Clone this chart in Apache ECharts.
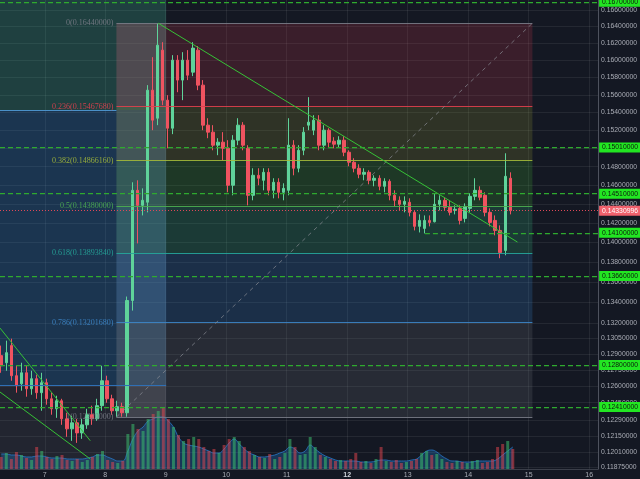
<!DOCTYPE html>
<html><head><meta charset="utf-8">
<script src="https://cdn.jsdelivr.net/npm/echarts@6/dist/echarts.min.js"></script>
<style>html,body{margin:0;padding:0;background:#141823}#c{width:640px;height:479px}</style>
</head><body><div id="c"></div>
<script>
// ---------- data ----------
const xMin = 6.2597, xMax = 16.148;          // day-of-month range shown
const priceTop = 0.16722, priceBottom = 0.11860;
const dayTicks = [7, 8, 9, 10, 11, 12, 13, 14, 15, 16];
const priceTicks = [0.166, 0.164, 0.162, 0.160, 0.158, 0.156, 0.154, 0.152, 0.150, 0.148, 0.146, 0.144, 0.142, 0.140, 0.138, 0.136, 0.134, 0.132, 0.1305, 0.129, 0.1275, 0.126, 0.1245, 0.1229, 0.1215, 0.1201, 0.11875];
const candleStart = 6.28, candleStepDays = 1 / 12; // 2h candles
const opens = [.12887,.12820,.12982,.12699,.12624,.12726,.12578,.12671,.12542,.12634,
 .12486,.12395,.12468,.12304,.12214,.12268,.12178,.12250,.12341,.12304,
 .12423,.12652,.12486,.12377,.12414,.12359,.13418,.14546,.14387,.14420,
 .15653,.15335,.16119,.15539,.15223,.16001,.15769,.16001,.15861,.16119,
 .15711,.15257,.15179,.15035,.15068,.15001,.14600,.15090,.15257,.15001,
 .14493,.14707,.14653,.14739,.14546,.14632,.14525,.14546,.15035,.14783,
 .14979,.15257,.15201,.15313,.15035,.15201,.15079,.15046,.15090,.14957,
 .14848,.14783,.14718,.14739,.14653,.14675,.14589,.14642,.14493,.14440,
 .14398,.14419,.14313,.14167,.14146,.14229,.14215,.14398,.14440,.14366,
 .14334,.14355,.14250,.14355,.14482,.14546,.14493,.14313,.14229,.14125,
 .13919,.14675];
const highs = [.12982,.13029,.13048,.12792,.12820,.12792,.12745,.12708,.12726,.12671,
 .12542,.12514,.12486,.12359,.12332,.12304,.12304,.12395,.12423,.12486,
 .12792,.12699,.12523,.12468,.12450,.13457,.14632,.14653,.14567,.15711,
 .16036,.16440,.16213,.15596,.16060,.16060,.16095,.16119,.16213,.16166,
 .15769,.15335,.15257,.15112,.15179,.15090,.15146,.15335,.15291,.15035,
 .14783,.14783,.14783,.14783,.14675,.14675,.14621,.15335,.15090,.15035,
 .15235,.15573,.15369,.15369,.15257,.15223,.15123,.15134,.15134,.14979,
 .14892,.14826,.14783,.14761,.14707,.14707,.14675,.14664,.14546,.14482,
 .14482,.14461,.14334,.14292,.14281,.14281,.14514,.14493,.14472,.14440,
 .14387,.14387,.14408,.14514,.14675,.14589,.14525,.14355,.14281,.14177,
 .14946,.14739];
const lows = [.12726,.12745,.12652,.12542,.12560,.12505,.12523,.12486,.12377,.12432,
 .12341,.12313,.12250,.12143,.12107,.12089,.12125,.12214,.12250,.12286,
 .12377,.12450,.12341,.12323,.12323,.12323,.13319,.13991,.14281,.14313,
 .15201,.15257,.15482,.15001,.15157,.15630,.15539,.15769,.15815,.15653,
 .15201,.15112,.14979,.14925,.14870,.14525,.14493,.15035,.14979,.14387,
 .14440,.14600,.14546,.14493,.14461,.14461,.14440,.14493,.14707,.14739,
 .14925,.15201,.15146,.14979,.14979,.15012,.15001,.15012,.14914,.14805,
 .14739,.14675,.14653,.14610,.14589,.14546,.14525,.14440,.14376,.14334,
 .14313,.14271,.14125,.14104,.14094,.14167,.14208,.14334,.14334,.14281,
 .14292,.14187,.14208,.14313,.14440,.14440,.14271,.14167,.14074,.13840,
 .13870,.14292];
const closes = [.12792,.12915,.12699,.12606,.12726,.12578,.12671,.12542,.12634,.12486,
 .12395,.12468,.12304,.12214,.12268,.12178,.12250,.12341,.12304,.12423,
 .12652,.12486,.12377,.12414,.12359,.13418,.14546,.14387,.14440,.15653,
 .15313,.16178,.15539,.15223,.16001,.15769,.16001,.15826,.16143,.15711,
 .15257,.15179,.15035,.15068,.15001,.14600,.15090,.15257,.15035,.14493,
 .14707,.14675,.14739,.14546,.14632,.14525,.14567,.15035,.14783,.14979,
 .15179,.15291,.15313,.15035,.15201,.15068,.15046,.15090,.14957,.14848,
 .14783,.14718,.14739,.14653,.14675,.14589,.14642,.14493,.14440,.14398,
 .14429,.14313,.14167,.14229,.14229,.14208,.14398,.14440,.14366,.14313,
 .14345,.14229,.14376,.14482,.14546,.14472,.14313,.14208,.14125,.13899,
 .14696,.14331];
const volumes = [12,16,10,17,14,11,9,22,18,12, 10,13,14,9,8,10,7,9,12,15,
 18,9,7,6,8,35,45,40,38,50, 55,58,62,50,42,34,28,30,32,30,
 22,18,20,16,24,30,32,28,22,18, 14,12,11,15,10,12,16,30,22,14,
 15,32,22,14,12,10,8,9,8,10, 16,7,8,6,10,22,8,7,9,6,
 7,8,10,16,18,14,15,10,7,6, 8,7,6,8,9,6,7,10,22,25, 28,20];
const volumeMA = [15,15,14,14,13,12,12,13,13,12, 11,11,11,10,10,10,10,11,12,14,
 14,12,10,8,8,18,30,38,42,48, 50,52,52,48,42,32,26,24,23,22,
 20,18,16,16,20,26,30,25,20,16, 14,12,12,13,14,16,18,22,20,16,
 18,24,20,16,13,11,9,8,8,8, 8,7,7,7,8,9,9,8,8,8,
 8,9,10,14,18,19,17,13,10,8, 8,7,7,7,8,8,8,8,10,14, 18,22];
const fibHigh = 0.1644, fibLow = 0.1232;
const fibRatios = [0, 0.236, 0.382, 0.5, 0.618, 0.786, 1];
const fibStartDay = 8.185, fibEndDay = 15.062;
const leftBoxEndDay = 9.007;
const leftBoxLevels = [0.15427, 0.12613];
const leftBoxLineEnds = [8.185, 9.007];
const supportLevels = [0.167, 0.1501, 0.1451, 0.141, 0.1366, 0.128, 0.1241];
const supportFromDay = [null, null, null, 13.285, null, null, null];
const lastPrice = 0.14330996;
const trendLines = [
  [[8.876, 0.1644], [14.815, 0.14005]],
  [[6.2597, 0.13150], [7.752, 0.12108]],
  [[6.2597, 0.12548], [7.752, 0.11947]]
];
const fibDiagonal = [[8.185, 0.1232], [15.062, 0.1644]];

// ---------- build ----------
const ln = Math.log;
const lnMin = ln(priceBottom), lnMax = ln(priceTop);
const tDay = i => candleStart + i * candleStepDays;
const candleData = opens.map((o, i) => [tDay(i), ln(o), ln(closes[i]), ln(lows[i]), ln(highs[i])]);
const volData = volumes.map((v, i) => ({value: [tDay(i), v],
  itemStyle: {color: closes[i] >= opens[i] ? 'rgba(60,190,110,0.55)' : 'rgba(235,70,80,0.5)'}}));
const maData = volumeMA.map((v, i) => [tDay(i), v]);

const fibPrices = fibRatios.map(r => fibHigh - r * (fibHigh - fibLow));
const fibColors = ['#787b86', '#e0404e', '#a3b83a', '#4caf50', '#26a69a', '#3d85c6', '#787b86'];
const zoneColors = ['rgba(210,54,75,0.2)', 'rgba(155,159,50,0.2)', 'rgba(70,184,50,0.2)',
  'rgba(55,194,130,0.2)', 'rgba(55,139,220,0.2)', 'rgba(115,119,125,0.2)'];

const areas = [];
areas.push([{coord: [xMin, lnMax], itemStyle: {color: 'rgba(75,224,180,0.2)'}}, {coord: [leftBoxEndDay, ln(leftBoxLevels[0])]}]);
areas.push([{coord: [xMin, ln(leftBoxLevels[0])], itemStyle: {color: 'rgba(48,140,215,0.25)'}}, {coord: [leftBoxEndDay, ln(leftBoxLevels[1])]}]);
areas.push([{coord: [xMin, ln(leftBoxLevels[1])], itemStyle: {color: 'rgba(113,117,125,0.15)'}}, {coord: [leftBoxEndDay, lnMin]}]);
for (let i = 0; i < fibPrices.length - 1; i++) {
  areas.push([{coord: [fibStartDay, ln(fibPrices[i])], itemStyle: {color: zoneColors[i]}}, {coord: [fibEndDay, ln(fibPrices[i + 1])]}]);
}
areas.push([{coord: [fibStartDay, ln(fibHigh)], itemStyle: {color: 'rgba(150,150,160,0.15)'}}, {coord: [leftBoxEndDay, ln(fibLow)]}]);

const seg = (x1, p1, x2, p2, style, label) => {
  const a = {coord: [x1, ln(p1)], lineStyle: style};
  if (label) a.label = label;
  return [a, {coord: [x2, ln(p2)], lineStyle: style}];
};
const lines = [];
fibPrices.forEach((p, i) => {
  lines.push(seg(fibStartDay, p, fibEndDay, p, {color: fibColors[i], width: 1, type: 'solid', opacity: 0.9},
    {show: true, position: 'start', distance: 3, color: fibColors[i], fontSize: 8, fontFamily: 'Liberation Serif',
      formatter: fibRatios[i] + '(' + p.toFixed(8) + ')'}));
});
lines.push(seg(fibDiagonal[0][0], fibDiagonal[0][1], fibDiagonal[1][0], fibDiagonal[1][1],
  {color: '#8a8d96', type: [4, 4], width: 1, opacity: 0.7}));
trendLines.forEach(t => lines.push(seg(t[0][0], t[0][1], t[1][0], t[1][1], {color: '#36c236', type: 'solid', width: 1, opacity: 1})));
lines.push(seg(xMin, leftBoxLevels[0], leftBoxLineEnds[0], leftBoxLevels[0], {color: '#4a90c8', type: 'solid', width: 1, opacity: 1}));
lines.push(seg(xMin, leftBoxLevels[1], leftBoxLineEnds[1], leftBoxLevels[1], {color: '#2f6fb5', type: 'solid', width: 1, opacity: 1}));

const badgeLabel = (txt, bg, fg) => ({show: true, position: 'end', distance: 1, formatter: txt, backgroundColor: bg, color: fg,
  fontSize: 6.8, fontFamily: 'Liberation Sans', padding: [2, 3, 1, 3]});
supportLevels.forEach((p, i) => {
  const from = supportFromDay[i] == null ? xMin : supportFromDay[i];
  lines.push(seg(from, p, xMax, p, {color: '#2faa2f', type: [5, 3], width: 1.25, opacity: 1},
    badgeLabel(p.toFixed(8), '#22e622', '#0b1a0b')));
});
lines.push(seg(xMin, lastPrice, xMax, lastPrice, {color: '#e04858', type: [1, 2], width: 1, opacity: 1},
  badgeLabel(lastPrice.toFixed(8), '#f0616d', '#ffffff')));

const lnTicks = priceTicks.map(p => ln(p));
const axisTxt = '#a9acb5';
const option = {
  backgroundColor: '#141823',
  animation: false,
  grid: [
    {left: 0, right: 39, top: 0, bottom: 10},
    {left: 0, right: 39, top: 400, bottom: 10}
  ],
  xAxis: [
    {type: 'value', gridIndex: 0, min: xMin, max: xMax,
      axisLine: {show: true, lineStyle: {color: '#3b3f4a'}},
      axisTick: {show: false, customValues: dayTicks},
      axisLabel: {customValues: dayTicks, color: axisTxt, fontSize: 7, margin: 3, fontFamily: 'Liberation Sans',
        formatter: v => v === 12 ? '{b|12}' : String(v), rich: {b: {fontWeight: 'bold', color: '#d1d4dc', fontSize: 7}}},
      splitLine: {show: true, lineStyle: {color: 'rgba(255,255,255,0.07)'}}},
    {type: 'value', gridIndex: 1, min: xMin, max: xMax, show: false, splitLine: {show: false}}
  ],
  yAxis: [
    {type: 'value', gridIndex: 0, position: 'right', min: lnMin, max: lnMax,
      axisLine: {show: true, lineStyle: {color: '#4e525e'}},
      axisTick: {show: false, customValues: lnTicks},
      axisLabel: {customValues: lnTicks, color: axisTxt, fontSize: 6.8, margin: 3, fontFamily: 'Liberation Sans',
        formatter: v => Math.exp(v).toFixed(8)},
      splitLine: {show: true, lineStyle: {color: 'rgba(255,255,255,0.07)'}}},
    {type: 'value', gridIndex: 1, min: 0, max: 69, show: false, splitLine: {show: false}}
  ],
  series: [
    {type: 'line', name: 'zones', xAxisIndex: 0, yAxisIndex: 0, data: [], z: 1, silent: true,
      markArea: {silent: true, data: areas}},
    {type: 'line', name: 'volMA', xAxisIndex: 1, yAxisIndex: 1, data: maData, smooth: 0.4, showSymbol: false, z: 2,
      lineStyle: {width: 1, color: 'rgba(40,120,200,0.8)'}, areaStyle: {color: 'rgba(33,120,200,0.45)'}},
    {type: 'bar', name: 'volume', xAxisIndex: 1, yAxisIndex: 1, data: volData, barWidth: 3, z: 3},
    {type: 'candlestick', name: 'price', xAxisIndex: 0, yAxisIndex: 0, data: candleData, barWidth: 3, z: 4,
      encode: {x: 0, y: [1, 2, 3, 4]},
      itemStyle: {color: '#5fd39a', color0: '#ef5360', borderColor: '#5fd39a', borderColor0: '#ef5360', borderWidth: 1}},
    {type: 'line', name: 'drawings', xAxisIndex: 0, yAxisIndex: 0, data: [], z: 5, silent: true,
      markLine: {silent: true, symbol: ['none', 'none'], label: {show: false}, data: lines}}
  ]
};
echarts.init(document.getElementById('c')).setOption(option);
</script>
</body></html>
